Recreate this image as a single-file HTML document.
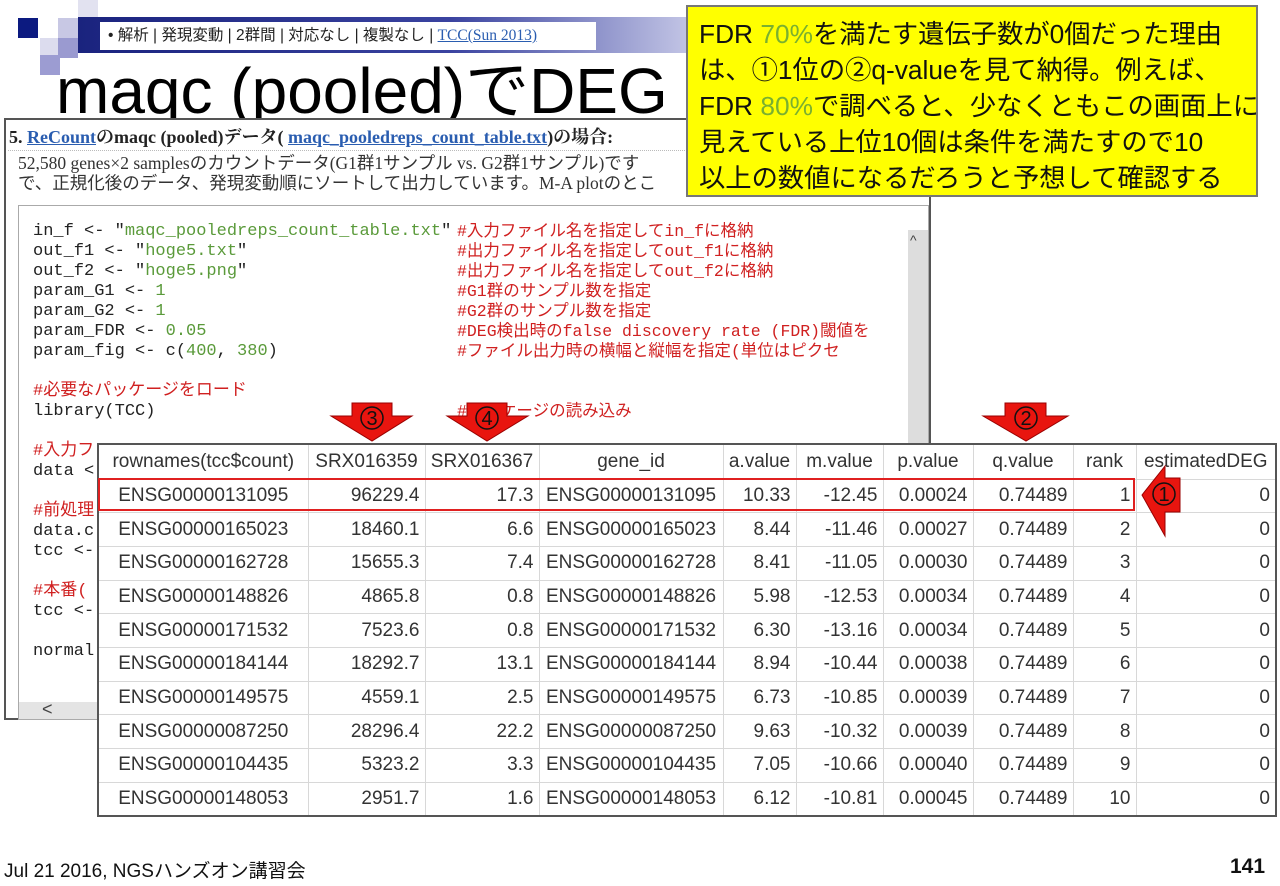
<!DOCTYPE html>
<html><head><meta charset="utf-8"><style>
*{margin:0;padding:0;box-sizing:border-box}
body{width:1280px;height:886px;background:#fff;position:relative;overflow:hidden;font-family:"Liberation Sans","Noto Sans CJK JP",sans-serif}
.a{position:absolute}
.sq{position:absolute;width:20px;height:20px}
.code{position:absolute;left:33px;font-family:"Liberation Mono","Noto Sans CJK JP",monospace;font-size:17px;line-height:20px;white-space:pre;color:#222}
.cm{position:absolute;left:457px;font-family:"Liberation Mono","Noto Sans CJK JP",monospace;font-size:16.5px;line-height:20px;white-space:pre;color:#d02020}
.g{color:#5a9a3a}.r{color:#d02020}
table{border-collapse:collapse;font-size:19px;color:#333;table-layout:fixed}
td{border:1px solid #d8d8d8;height:33.7px;padding:0 5px;text-align:right;white-space:nowrap;overflow:hidden}
tr.h td{text-align:center;height:35px}
td.c{text-align:center}
</style></head><body>
<div class="sq" style="left:18px;top:18px;background:#0c1a80"></div>
<div class="sq" style="left:58px;top:18px;background:#c8c8e4"></div>
<div class="sq" style="left:78px;top:0;background:#e2e2f0"></div>
<div class="sq" style="left:40px;top:38px;background:#dcdcee"></div>
<div class="sq" style="left:58px;top:38px;background:#9a9ad0"></div>
<div class="sq" style="left:40px;top:55px;background:#9c9cd2"></div>
<div class="a" style="left:78px;top:17px;width:620px;height:36px;background:linear-gradient(90deg,#1a237e,#3a43a0 60%,#c8cae8)"></div>
<div class="a" style="left:100px;top:22px;width:496px;height:28px;background:#fff;font-size:15.5px;line-height:28px;padding-left:8px;color:#222;white-space:nowrap">• 解析 | 発現変動 | 2群間 | 対応なし | 複製なし | <span style="color:#2a5db0;text-decoration:underline;font-family:'Liberation Serif',serif">TCC(Sun 2013)</span></div>
<div class="a" style="left:56px;top:56px;font-size:64px;line-height:70px;color:#000;white-space:nowrap">maqc (pooled)でDEG</div>

<div class="a" style="left:4px;top:118px;width:927px;height:602px;background:#fff;border:2px solid #555"></div>
<div class="a" style="left:9px;top:123px;font-family:'Liberation Serif','Noto Serif CJK SC',serif;font-weight:bold;font-size:18px;color:#222;white-space:nowrap">5. <span style="color:#2a5db0;text-decoration:underline">ReCount</span>のmaqc (pooled)データ( <span style="color:#2a5db0;text-decoration:underline">maqc_pooledreps_count_table.txt</span>)の場合:</div>
<div class="a" style="left:8px;top:150px;width:921px;border-top:1px dotted #bbb"></div>
<div class="a" style="left:18px;top:153px;width:910px;overflow:hidden;font-family:'Liberation Serif','Noto Sans CJK JP',serif;font-size:17.5px;line-height:20px;color:#333;white-space:nowrap">52,580 genes×2 samplesのカウントデータ(G1群1サンプル vs. G2群1サンプル)です<br>で、正規化後のデータ、発現変動順にソートして出力しています。M-A plotのとこ</div>
<div class="a" style="left:18px;top:205px;width:911px;height:515px;border:1px solid #aaa;background:#fff"></div>
<div class="a" style="left:908px;top:230px;width:20px;height:475px;background:#ddd"></div>
<div class="a" style="left:910px;top:232px;font-size:14px;color:#444">^</div>
<div class="a" style="left:19px;top:702px;width:889px;height:17px;background:#e4e4e4"></div>
<div class="a" style="left:42px;top:699px;font-size:18px;color:#444">&lt;</div>
<div class="code" style="top:222px">in_f &lt;- "<span class="g">maqc_pooledreps_count_table.txt</span>"
out_f1 &lt;- "<span class="g">hoge5.txt</span>"
out_f2 &lt;- "<span class="g">hoge5.png</span>"
param_G1 &lt;- <span class="g">1</span>
param_G2 &lt;- <span class="g">1</span>
param_FDR &lt;- <span class="g">0.05</span>
param_fig &lt;- c(<span class="g">400</span>, <span class="g">380</span>)

<span class="r">#必要なパッケージをロード</span>
library(TCC)

<span class="r">#入力フ</span>
data &lt;

<span class="r">#前処理</span>
data.c
tcc &lt;-

<span class="r">#本番(</span>
tcc &lt;-

normal</div>
<div class="cm" style="top:222px;width:450px;overflow:hidden">#入力ファイル名を指定してin_fに格納
#出力ファイル名を指定してout_f1に格納
#出力ファイル名を指定してout_f2に格納
#G1群のサンプル数を指定
#G2群のサンプル数を指定
#DEG検出時のfalse discovery rate (FDR)閾値を
#ファイル出力時の横幅と縦幅を指定(単位はピクセ


#パッケージの読み込み</div>

<table class="a" style="left:97px;top:443px;width:1178px;border:2px solid #555;background:#fff">
<colgroup><col style="width:210px"><col style="width:117px"><col style="width:114px"><col style="width:184px"><col style="width:73px"><col style="width:87px"><col style="width:90px"><col style="width:100px"><col style="width:63px"><col style="width:140px"></colgroup>
<tr class="h"><td>rownames(tcc$count)</td><td>SRX016359</td><td>SRX016367</td><td>gene_id</td><td>a.value</td><td>m.value</td><td>p.value</td><td>q.value</td><td>rank</td><td>estimatedDEG</td></tr>
<tr><td class="c">ENSG00000131095</td><td>96229.4</td><td>17.3</td><td class="c">ENSG00000131095</td><td>10.33</td><td>-12.45</td><td>0.00024</td><td>0.74489</td><td>1</td><td>0</td></tr>
<tr><td class="c">ENSG00000165023</td><td>18460.1</td><td>6.6</td><td class="c">ENSG00000165023</td><td>8.44</td><td>-11.46</td><td>0.00027</td><td>0.74489</td><td>2</td><td>0</td></tr>
<tr><td class="c">ENSG00000162728</td><td>15655.3</td><td>7.4</td><td class="c">ENSG00000162728</td><td>8.41</td><td>-11.05</td><td>0.00030</td><td>0.74489</td><td>3</td><td>0</td></tr>
<tr><td class="c">ENSG00000148826</td><td>4865.8</td><td>0.8</td><td class="c">ENSG00000148826</td><td>5.98</td><td>-12.53</td><td>0.00034</td><td>0.74489</td><td>4</td><td>0</td></tr>
<tr><td class="c">ENSG00000171532</td><td>7523.6</td><td>0.8</td><td class="c">ENSG00000171532</td><td>6.30</td><td>-13.16</td><td>0.00034</td><td>0.74489</td><td>5</td><td>0</td></tr>
<tr><td class="c">ENSG00000184144</td><td>18292.7</td><td>13.1</td><td class="c">ENSG00000184144</td><td>8.94</td><td>-10.44</td><td>0.00038</td><td>0.74489</td><td>6</td><td>0</td></tr>
<tr><td class="c">ENSG00000149575</td><td>4559.1</td><td>2.5</td><td class="c">ENSG00000149575</td><td>6.73</td><td>-10.85</td><td>0.00039</td><td>0.74489</td><td>7</td><td>0</td></tr>
<tr><td class="c">ENSG00000087250</td><td>28296.4</td><td>22.2</td><td class="c">ENSG00000087250</td><td>9.63</td><td>-10.32</td><td>0.00039</td><td>0.74489</td><td>8</td><td>0</td></tr>
<tr><td class="c">ENSG00000104435</td><td>5323.2</td><td>3.3</td><td class="c">ENSG00000104435</td><td>7.05</td><td>-10.66</td><td>0.00040</td><td>0.74489</td><td>9</td><td>0</td></tr>
<tr><td class="c">ENSG00000148053</td><td>2951.7</td><td>1.6</td><td class="c">ENSG00000148053</td><td>6.12</td><td>-10.81</td><td>0.00045</td><td>0.74489</td><td>10</td><td>0</td></tr>
</table>
<div class="a" style="left:98px;top:478px;width:1037px;height:33px;border:2px solid #e02020"></div>

<svg class="a" style="left:0;top:0" width="1280" height="886">
<g fill="#e8150f" stroke="#900" stroke-width="1">
<polygon points="352,403 392,403 392,416 412,416 372,441 331,416 352,416"/>
<polygon points="467,403 507,403 507,416 528,416 487,441 447,416 467,416"/>
<polygon points="1005,403 1046,403 1046,416 1068,416 1026,441 983,416 1005,416"/>
<polygon points="1142,495 1165,466 1165,478 1180,478 1180,512 1165,512 1165,536"/>
</g>
<g font-family="Liberation Sans,DejaVu Sans,sans-serif" font-size="20" fill="#111" text-anchor="middle">
<circle cx="372" cy="418" r="11" fill="none" stroke="#111" stroke-width="1.5"/><text x="372" y="425">3</text>
<circle cx="487" cy="418" r="11" fill="none" stroke="#111" stroke-width="1.5"/><text x="487" y="425">4</text>
<circle cx="1026" cy="418" r="11" fill="none" stroke="#111" stroke-width="1.5"/><text x="1026" y="425">2</text>
<circle cx="1164" cy="494" r="11" fill="none" stroke="#111" stroke-width="1.5"/><text x="1164" y="501">1</text>
</g>
</svg>

<div class="a" style="left:686px;top:5px;width:572px;height:192px;background:#ffff00;border:2px solid #777;font-size:26.3px;line-height:36px;padding:9px 0 0 11px;color:#111;white-space:nowrap;overflow:hidden">FDR <span style="color:#7ab030">70%</span>を満たす遺伝子数が0個だった理由<br>は、①1位の②q-valueを見て納得。例えば、<br>FDR <span style="color:#7ab030">80%</span>で調べると、少なくともこの画面上に<br>見えている上位10個は条件を満たすので10<br>以上の数値になるだろうと予想して確認する</div>

<div class="a" style="left:4px;top:856px;font-size:19px;color:#111;white-space:nowrap">Jul 21 2016, NGSハンズオン講習会</div>
<div class="a" style="left:1230px;top:855px;font-size:21px;font-weight:bold;color:#111">141</div>
</body></html>
